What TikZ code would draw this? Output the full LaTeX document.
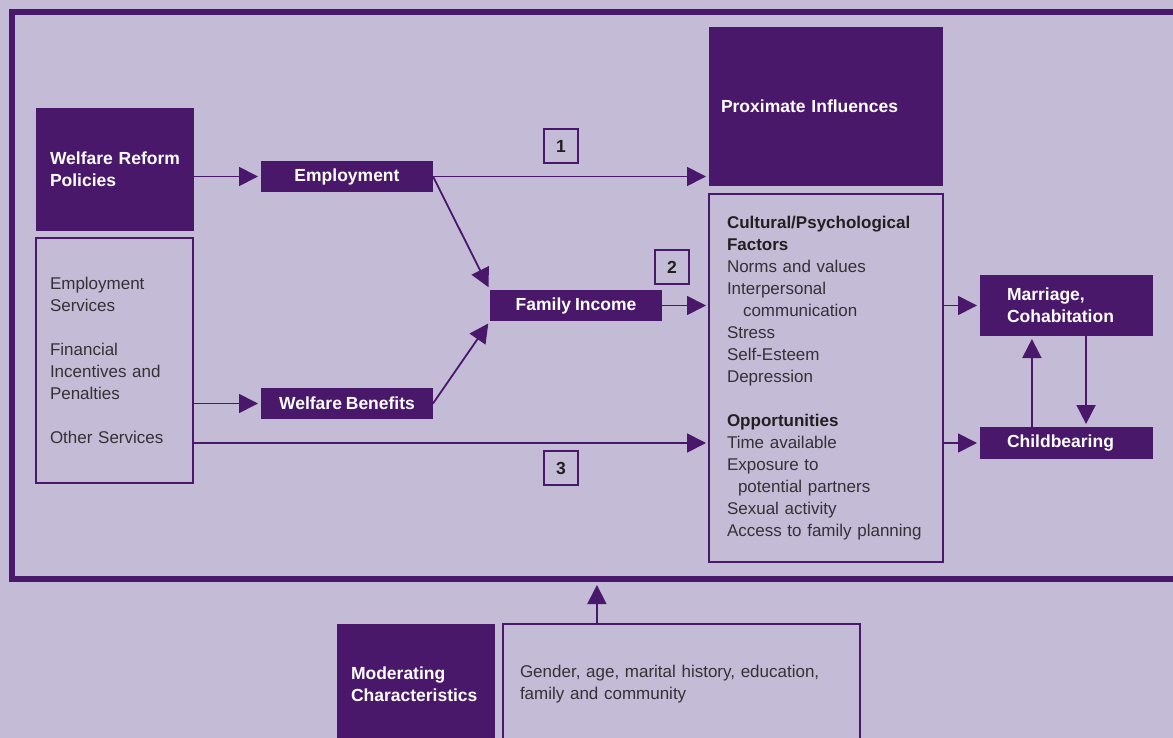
\documentclass[tikz,border=0pt]{standalone}
\usepackage{fontspec}
\setmainfont[WordSpace=0.8]{Liberation Sans}
\usepackage{tikz}
\usetikzlibrary{
	arrows.meta,									% 三角箭头
	calc,											% 坐标计算
}
\definecolor{bglav}{RGB}{196,187,215}
\definecolor{dkpurple}{RGB}{74,24,106}
\definecolor{txtgray}{RGB}{52,49,54}
\definecolor{headblack}{RGB}{35,31,32}

\begin{document}
\begin{tikzpicture}[x=1pt,y=-1pt,
		arr/.style={draw=dkpurple,line width=1.8pt,-{Triangle[length=19pt,width=19pt]},shorten >=3pt},
		darkbox/.style={fill=dkpurple,text=white,anchor=north west,outer sep=0pt,inner ysep=0pt,font=\fontsize{17.5}{22}\selectfont\bfseries},
		lightbox/.style={draw=dkpurple,line width=1.6pt,text=txtgray,anchor=north west,outer sep=0pt,inner ysep=0pt,align=left,font=\fontsize{17}{22}\selectfont},
		numtag/.style={draw=dkpurple,line width=1.8pt,text=headblack,anchor=north west,outer sep=0pt,inner sep=0pt,minimum size=34pt,font=\fontsize{17.5}{22}\selectfont\bfseries},
	]
		\useasboundingbox (0,0) rectangle (1173,738);
		\clip (0,0) rectangle (1173,738);
		\fill [bglav] (0,0) rectangle (1173,738);
		\node [draw=dkpurple,line width=5.7pt,anchor=north west,inner sep=0pt,outer sep=0pt,minimum width=1200pt,minimum height=567.2pt] (frame) at (11.8,11.8) {};

		% 左侧
		\node [darkbox,align=left,inner xsep=14pt,text width=130pt,minimum height=123pt] (wrp) at (36,108) {Welfare Reform\\Policies};
		\node [lightbox,inner xsep=14pt,text width=129pt,minimum height=245pt] (list) at (36,238)
			{Employment\\Services\\[22pt]Financial\\Incentives and\\Penalties\\[22pt]Other Services};
		\node [darkbox,minimum width=172pt,minimum height=31pt] (emp) at (261,161) {Employment};
		\node [darkbox,minimum width=172pt,minimum height=31pt] (wb) at (261,388) {Welfare Benefits};
		\node [darkbox,minimum width=172pt,minimum height=31pt] (fi) at (490,290) {Family Income};

		% 路径编号
		\node [numtag] (t1) at (544,129) {1};
		\node [numtag] (t2) at (655,250) {2};
		\node [numtag] (t3) at (544,451) {3};

		% 中间与右侧
		\node [darkbox,align=left,inner xsep=12pt,text width=210pt,minimum height=159pt] (prox) at (709,27) {Proximate Influences};
		\node [lightbox,inner xsep=18pt,text width=198pt,minimum height=368pt] (fac) at (709,194)
			{{\color{headblack}\bfseries Cultural/Psychological}\\{\color{headblack}\bfseries Factors}\\Norms and values\\Interpersonal\\\hspace*{16pt}communication\\Stress\\Self-Esteem\\Depression\\[22pt]{\color{headblack}\bfseries Opportunities}\\Time available\\Exposure to\\\hspace*{11pt}potential partners\\Sexual activity\\Access to family planning\\[8pt]};
		\node [darkbox,align=left,inner xsep=27pt,text width=119pt,minimum height=61pt] (mar) at (980,275) {Marriage,\\Cohabitation};
		\node [darkbox,align=left,inner xsep=27pt,text width=119pt,minimum height=32pt] (chb) at (980,427) {Childbearing};

		% 底部
		\node [darkbox,align=left,inner xsep=14pt,text width=130pt,minimum height=120pt] (mod) at (337,624) {Moderating\\Characteristics};
		\node [lightbox,inner xsep=17pt,text width=323pt,minimum height=120pt] (gen) at (503,624)
			{Gender, age, marital history, education,\\family and community};

		\draw [arr] (wrp.east |- emp.west) -- (emp.west);
		\draw [arr] (emp.east) -- (emp.east -| prox.west);
		\draw [arr] (emp.east) -- (fi.north west);
		\draw [arr] (list.east |- wb.west) -- (wb.west);
		\draw [arr] (wb.east) -- (fi.south west);
		\draw [arr] (fi.east) -- (fi.east -| fac.west);
		\draw [arr] (list.east |- chb.west) -- (chb.west -| fac.west);
		\draw [arr] (fac.east |- mar.west) -- (mar.west);
		\draw [arr] (fac.east |- chb.west) -- (chb.west);
		\draw [arr] ($(chb.north west)!0.3!(chb.north east)$) coordinate (up) -- (up |- mar.south);
		\draw [arr] ($(mar.south west)!0.613!(mar.south east)$) coordinate (dn) -- (dn |- chb.north);
		\draw [arr,shorten >=6pt] ($(gen.north west)!0.263!(gen.north east)$) coordinate (mc) -- (mc |- frame.south);
	\end{tikzpicture}
\end{document}
